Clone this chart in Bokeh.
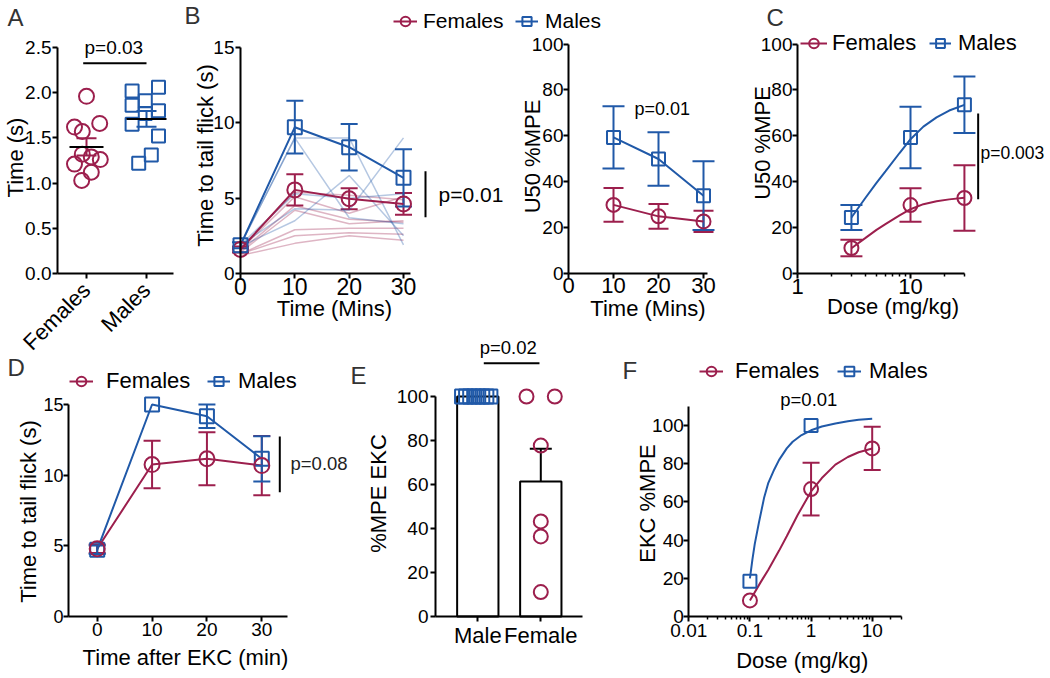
import math
from bokeh.plotting import figure
from bokeh.models import (Range1d, FixedTicker, Whisker, TeeHead, Label, Legend,
                          LegendItem, ColumnDataSource, GridBox, PrintfTickFormatter,
                          CustomJSTickFormatter)
from bokeh.embed import file_html
from bokeh.resources import INLINE

FEM = "#9C1F4D"
MAL = "#2059A8"
FONT = "Liberation Sans"

# ---------------- data ----------------
# Panel A
a_groups = ["Females", "Males"]
a_fem = [1.96, 1.62, 1.57, 1.66, 1.32, 1.29, 1.21, 1.26, 1.12, 1.03]
a_fem_jit = [0.0, -0.20, -0.07, 0.22, -0.07, 0.08, -0.20, 0.23, 0.08, -0.08]
a_mal = [2.02, 2.06, 1.91, 1.86, 1.80, 1.77, 1.65, 1.52, 1.31, 1.22]
a_mal_jit = [-0.24, 0.20, -0.02, -0.24, 0.20, -0.02, -0.24, 0.20, 0.08, -0.13]
a_mean = [1.40, 1.71]
a_sem = [0.095, 0.088]

# Panel B (left): time course
b_t = [0, 10, 20, 30]
b_fem_mean = [1.6, 5.55, 4.96, 4.62]
b_fem_sem = [0.2, 1.03, 0.70, 0.72]
b_mal_mean = [1.88, 9.71, 8.38, 6.35]
b_mal_sem = [0.2, 1.75, 1.55, 1.90]
b_fem_ind = [[1.7, 5.4, 5.2, 4.9], [1.6, 5.1, 4.0, 5.1], [1.5, 4.5, 3.6, 3.4],
             [1.4, 4.2, 3.3, 3.5], [1.3, 2.9, 3.0, 3.0], [1.3, 2.5, 2.7, 2.6],
             [1.2, 2.0, 2.5, 2.2]]
b_mal_ind = [[1.9, 9.0, 9.0, 1.9], [1.9, 9.0, 3.7, 3.3], [1.8, 3.5, 6.5, 2.5],
             [1.9, 4.3, 4.2, 9.0], [1.9, 5.3, 5.0, 5.3]]

# Panel B (right): U50 %MPE
b2_t = [10, 20, 30]
b2_fem = [29.9, 24.9, 22.7]
b2_fem_sem = [7.4, 5.4, 4.6]
b2_mal = [59.3, 49.9, 33.9]
b2_mal_sem = [13.6, 11.7, 15.0]

# Panel C: dose response
c_dose = [3, 10, 30]
c_fem = [11.1, 29.8, 32.9]
c_fem_sem = [3.6, 7.3, 14.3]
c_mal = [24.4, 59.3, 73.5]
c_mal_sem = [5.5, 13.4, 12.3]
c_curve_dose = [3, 4, 5, 6, 8, 10, 13, 17, 22, 30]
c_curve_mal = [24.4, 33.0, 39.5, 44.5, 52.5, 58.5, 64.0, 68.0, 71.0, 73.5]
c_curve_fem = [11.0, 15.5, 19.0, 21.5, 25.3, 28.0, 30.2, 31.5, 32.3, 33.0]

# Panel D: after EKC
d_t = [0, 10, 20, 30]
d_fem = [4.79, 10.75, 11.16, 10.68]
d_fem_sem = [0.3, 1.68, 1.88, 2.1]
d_mal = [4.72, 15.0, 14.17, 11.16]
d_mal_sem = [0.3, 0.0, 0.83, 1.6]

# Panel E: %MPE EKC
e_groups = ["Male", "Female"]
e_mal = [100, 100, 100, 100, 100, 100, 100, 100]
e_mal_jit = [-0.25, -0.186, -0.121, -0.057, 0.007, 0.071, 0.136, 0.2]
e_fem = [100, 100, 77.7, 43.2, 36.4, 11.1]
e_fem_jit = [-0.227, 0.222, 0.0, 0.0, 0.0, 0.0]
e_mean = [100, 61.4]
e_fem_sem = 14.9

# Panel F: EKC dose response
f_fem_dose = [0.1, 1, 10]
f_fem = [8.4, 66.7, 88.0]
f_fem_sem = [0.0, 13.8, 11.3]
f_mal_dose = [0.1, 1]
f_mal = [18.5, 100]
f_curve_mal_dose = [0.1, 0.11, 0.12, 0.14, 0.17, 0.2, 0.25, 0.3, 0.4, 0.5, 0.7, 1, 1.5, 2.5, 4, 6, 10]
f_curve_mal = [20, 30, 38, 49, 62, 70, 77, 82, 88, 91.5, 95, 97.5, 99.5, 101, 102.2, 103, 103.5]
f_curve_fem_dose = [0.1, 0.15, 0.2, 0.3, 0.4, 0.6, 1, 1.5, 2.5, 4, 6, 10]
f_curve_fem = [8.4, 18, 24.5, 34.5, 42, 53, 65.5, 72.5, 79.5, 83.5, 86, 88]

# tick values
tk_a_y = [0, 0.5, 1.0, 1.5, 2.0, 2.5]
tk_time = [0, 10, 20, 30]
tk_15 = [0, 5, 10, 15]
tk_100 = [0, 20, 40, 60, 80, 100]
tk_c_x = [1, 10]
tk_c_minor = [2, 3, 4, 5, 6, 7, 8, 9, 20, 30]
tk_f_x = [0.01, 0.1, 1, 10]
tk_f_minor = [0.02, 0.03, 0.04, 0.05, 0.06, 0.07, 0.08, 0.09,
              0.2, 0.3, 0.4, 0.5, 0.6, 0.7, 0.8, 0.9,
              2, 3, 4, 5, 6, 7, 8, 9, 20, 30]


# ---------------- helpers ----------------
def lin(v0, p0, v1, p1):
    k = (v1 - v0) / (p1 - p0)
    return lambda p: v0 + (p - p0) * k


def logm(v0, p0, v1, p1):
    l0, l1 = math.log10(v0), math.log10(v1)
    k = (l1 - l0) / (p1 - p0)
    return lambda p: 10 ** (l0 + (p - p0) * k)


class Pan:
    """One panel: a figure whose plotting frame covers its whole canvas."""

    def __init__(self, canvas, xm, ym, xlog=False):
        self.c = canvas
        self.xm, self.ym = xm, ym
        cx0, cy0, cx1, cy1 = canvas
        kw = {"x_axis_type": "log"} if xlog else {}
        p = figure(width=cx1 - cx0, height=cy1 - cy0, output_backend="svg",
                   toolbar_location=None,
                   x_range=Range1d(xm(cx0), xm(cx1)), y_range=Range1d(ym(cy1), ym(cy0)),
                   min_border_left=0, min_border_right=0,
                   min_border_top=0, min_border_bottom=0, **kw)
        p.min_border = 0
        p.outline_line_color = None
        p.grid.visible = False
        p.background_fill_color = "white"
        p.border_fill_color = "white"
        for ax in p.axis:
            ax.axis_line_width = 2
            ax.axis_line_color = "black"
            ax.major_tick_line_width = 2
            ax.major_tick_line_color = "black"
            ax.major_tick_out = 5
            ax.major_tick_in = 0
            ax.minor_tick_line_width = 1.5
            ax.minor_tick_line_color = "black"
            ax.minor_tick_out = 3
            ax.minor_tick_in = 0
            ax.major_label_text_font = FONT
            ax.major_label_text_color = "black"
        self.p = p

    def axes(self, xt, xsize, xs1, xb, xloc, yt, ysize, ys1, yb, yloc, xminor=None):
        xa, ya = self.p.xaxis[0], self.p.yaxis[0]
        xa.ticker = FixedTicker(ticks=xt, minor_ticks=xminor or [])
        ya.ticker = FixedTicker(ticks=yt)
        xa.major_label_text_font_size = f"{xsize}px"
        ya.major_label_text_font_size = f"{ysize}px"
        xa.major_label_standoff = xs1
        ya.major_label_standoff = ys1
        xa.bounds = xb
        ya.bounds = yb
        xa.fixed_location = xloc
        ya.fixed_location = yloc
        return xa, ya

    # (px, py) is the centre of the text's line box, in page pixels
    def text(self, px, py, s, size, align="center", angle=0.0, color="black"):
        self.p.add_layout(Label(x=self.xm(px), y=self.ym(py), text=s,
                                text_font=FONT, text_font_size=f"{size}px",
                                text_align=align, text_baseline="middle",
                                angle=angle, text_color=color))

    def ytitle(self, px, py, s):
        self.text(px, py, s, 22, angle=math.pi / 2)

    def letter(self, px, py, s):
        self.text(px, py, s, 24, align="left", color="#333333")

    def legend(self, label, rends, x_img, y_img, gw=24, standoff=6, size=22):
        cx0, cy0, cx1, cy1 = self.c
        H = 25
        L = Legend(items=[LegendItem(label=label, renderers=rends)],
                   location=(x_img - cx0, cy1 - y_img - H / 2),
                   orientation="horizontal", glyph_width=gw, glyph_height=24,
                   label_standoff=standoff, padding=0, margin=0,
                   border_line_color=None, background_fill_alpha=0,
                   label_text_font=FONT, label_text_font_size=f"{size}px",
                   label_text_color="black", label_height=20)
        self.p.add_layout(L, "center")


def pts(p, xs, ys, kind, color, size):
    return p.scatter(xs, ys, marker=kind, size=size, line_color=color,
                     line_width=2, fill_color=None)


def whisk(p, xs, means, sems, color, head):
    keep = [(x, m, s) for x, m, s in zip(xs, means, sems) if s > 0]
    src = ColumnDataSource(dict(x=[k[0] for k in keep],
                                up=[k[1] + k[2] for k in keep],
                                lo=[k[1] - k[2] for k in keep]))
    w = Whisker(source=src, base="x", upper="up", lower="lo", dimension="height",
                line_color=color, line_width=2,
                upper_head=TeeHead(size=head, line_color=color, line_width=2),
                lower_head=TeeHead(size=head, line_color=color, line_width=2))
    p.add_layout(w)


# ---------------- Panel A ----------------
A = Pan((0, 0, 178, 355), lin(1, 86, 2, 146), lin(0, 273, 2.5, 47))
xa, ya = A.axes([1, 2], 22, 8, (A.xm(57), A.xm(173)), 0,
                tk_a_y, 19, 1, (0, 2.5), A.xm(57))
xa.major_label_overrides = {1: a_groups[0], 2: a_groups[1]}
xa.major_label_orientation = math.pi / 4
ya.formatter = PrintfTickFormatter(format="%.1f")
p = A.p
whisk(p, [1], [a_mean[0]], [a_sem[0]], FEM, 20)
whisk(p, [2], [a_mean[1]], [a_sem[1]], MAL, 20)
pts(p, [1 + j for j in a_fem_jit], a_fem, "circle", FEM, 15)
pts(p, [2 + j for j in a_mal_jit], a_mal, "square", MAL, 13)
p.scatter([1, 2], a_mean, marker="dash", size=[34, 40], line_color="black", line_width=2)
p.line([0.945, 2.0], [2.326, 2.326], line_color="black", line_width=2)
A.text(113.3, 47.4, "p=0.03", 19)
A.ytitle(15.3, 157, "Time (s)")
A.letter(7, 16.6, "A")

# ---------------- Panel B left ----------------
B1 = Pan((178, 0, 510, 336), lin(0, 240, 30, 403), lin(0, 273, 15, 47))
B1.axes(tk_time, 23, -1, (0, 31.3), 0, tk_15, 19, 1, (0, 15), 0)
p = B1.p
p.multi_line([b_t] * len(b_fem_ind), b_fem_ind, line_color=FEM, line_alpha=0.33, line_width=1.5)
p.multi_line([b_t] * len(b_mal_ind), b_mal_ind, line_color=MAL, line_alpha=0.33, line_width=1.5)
lf = p.line(b_t, b_fem_mean, line_color=FEM, line_width=2)
lm = p.line(b_t, b_mal_mean, line_color=MAL, line_width=2)
whisk(p, b_t, b_fem_mean, b_fem_sem, FEM, 17)
whisk(p, b_t, b_mal_mean, b_mal_sem, MAL, 17)
sf = pts(p, b_t, b_fem_mean, "circle", FEM, 15)
sm = pts(p, b_t, b_mal_mean, "square", MAL, 14)
p.line([34.05, 34.05], [3.74, 6.79], line_color="black", line_width=2)
B1.text(438, 194.4, "p=0.01", 21, align="left")
B1.text(334, 308.3, "Time (Mins)", 22)
B1.ytitle(205.3, 155, "Time to tail flick (s)")
B1.legend("Females", [lf, sf], 393, 20, 24, 6, 21)
B1.letter(184, 14.6, "B")

# ---------------- Panel B right ----------------
B2 = Pan((510, 0, 745, 336), lin(0, 568, 30, 703), lin(0, 273, 100, 43.5))
B2.axes(tk_time, 22, -1, (0, 30.8), 0, tk_100, 19, 0, (0, 100), 0)
p = B2.p
lf2 = p.line(b2_t, b2_fem, line_color=FEM, line_width=2)
lm2 = p.line(b2_t, b2_mal, line_color=MAL, line_width=2)
whisk(p, b2_t, b2_fem, b2_fem_sem, FEM, 20)
whisk(p, b2_t, b2_mal, b2_mal_sem, MAL, 22)
sf2 = pts(p, b2_t, b2_fem, "circle", FEM, 14)
sm2 = pts(p, b2_t, b2_mal, "square", MAL, 13)
B2.text(661.7, 108.7, "p=0.01", 18)
B2.text(647.5, 308.3, "Time (Mins)", 22)
B2.ytitle(532.3, 156, "U50 %MPE")
B2.legend("Males", [lm2, sm2], 515, 20, 23, 7, 21)

# ---------------- Panel C ----------------
C = Pan((745, 0, 1048, 336), logm(1, 797, 10, 910), lin(0, 273, 100, 43.5), xlog=True)
xa, ya = C.axes(tk_c_x, 22, 0, (1, 30), 0, tk_100, 19, 0, (0, 100), 1, tk_c_minor)
xa.formatter = CustomJSTickFormatter(code="return tick.toString()")
p = C.p
cf = p.line(c_curve_dose, c_curve_fem, line_color=FEM, line_width=2)
cm = p.line(c_curve_dose, c_curve_mal, line_color=MAL, line_width=2)
whisk(p, c_dose, c_fem, c_fem_sem, FEM, 22)
whisk(p, c_dose, c_mal, c_mal_sem, MAL, 22)
csf = pts(p, c_dose, c_fem, "circle", FEM, 14)
csm = pts(p, c_dose, c_mal, "square", MAL, 13)
p.line([39.7, 39.7], [32.4, 69.7], line_color="black", line_width=2)
C.text(980, 152.2, "p=0.003", 17.5, align="left")
C.text(892.5, 305.6, "Dose (mg/kg)", 22)
C.ytitle(762.3, 142.5, "U50 %MPE")
C.legend("Females", [cf, csf], 800, 43.3, 27, 5)
C.legend("Males", [cm, csm], 929, 43.3, 22, 7)
C.letter(766, 16.6, "C")

# ---------------- Panel D ----------------
D = Pan((0, 355, 349, 676), lin(0, 96.7, 30, 261.3), lin(0, 616, 15, 404))
D.axes(tk_time, 19, 1, (D.xm(68), 34.7), 0, tk_15, 18, 0, (0, 15), D.xm(68))
p = D.p
df = p.line(d_t, d_fem, line_color=FEM, line_width=2)
dm = p.line(d_t, d_mal, line_color=MAL, line_width=2)
whisk(p, d_t, d_fem, d_fem_sem, FEM, 17)
whisk(p, d_t, d_mal, d_mal_sem, MAL, 17)
dsm = pts(p, d_t, d_mal, "square", MAL, 14)
dsf = pts(p, d_t, d_fem, "circle", FEM, 15)
p.line([33.28, 33.28], [8.8, 12.74], line_color="black", line_width=2)
D.text(290, 463.4, "p=0.08", 18.5, align="left", color="#222222")
D.text(185, 657.3, "Time after EKC (min)", 22)
D.ytitle(27.8, 511, "Time to tail flick (s)")
D.legend("Females", [df, dsf], 69, 381.7, 24, 13)
D.legend("Males", [dm, dsm], 207, 381.7, 23, 8)
D.letter(7, 366.6, "D")

# ---------------- Panel E ----------------
E = Pan((349, 336, 600, 676), lin(1, 477.3, 2, 540.3), lin(0, 616, 100, 396))
xa, ya = E.axes([1, 2], 22, 1, (E.xm(435), E.xm(582.3)), 0,
                tk_100, 19, 2, (0, 100), E.xm(435))
xa.major_label_overrides = {1: e_groups[0], 2: e_groups[1]}
p = E.p
p.vbar(x=[1, 2], top=e_mean, width=0.656, fill_color="white", line_color="black", line_width=2)
whisk(p, [2], [e_mean[1]], [e_fem_sem], "black", 22)
pts(p, [1 + j for j in e_mal_jit], e_mal, "square", MAL, 14)
pts(p, [2 + j for j in e_fem_jit], e_fem, "circle", FEM, 14)
p.line([1.095, 1.979], [115.1, 115.1], line_color="black", line_width=2)
E.text(507.7, 346.8, "p=0.02", 18.5)
E.ytitle(378.3, 493, "%MPE EKC")
E.letter(350, 374.6, "E")

# ---------------- Panel F ----------------
F = Pan((600, 336, 1048, 676), logm(0.01, 688.3, 10, 871.7), lin(0, 616, 100, 425), xlog=True)
xa, ya = F.axes(tk_f_x, 19, 2, (0.01, 30), 0, tk_100, 19, 0, (0, 110), 0.01, tk_f_minor)
xa.formatter = CustomJSTickFormatter(code="return tick.toString()")
p = F.p
ff = p.line(f_curve_fem_dose, f_curve_fem, line_color=FEM, line_width=2)
fm = p.line(f_curve_mal_dose, f_curve_mal, line_color=MAL, line_width=2)
whisk(p, f_fem_dose, f_fem, f_fem_sem, FEM, 17)
fsf = pts(p, f_fem_dose, f_fem, "circle", FEM, 14)
fsm = pts(p, f_mal_dose, f_mal, "square", MAL, 13)
F.text(808.3, 398.5, "p=0.01", 18.5)
F.text(801.7, 660.3, "Dose (mg/kg)", 22)
F.ytitle(647.3, 503, "EKC %MPE")
F.legend("Females", [ff, fsf], 699, 371.7, 24, 12)
F.legend("Males", [fm, fsm], 837, 371.7, 24, 8)
F.letter(622, 369.6, "F")

grid = GridBox(children=[(A.p, 0, 0, 2, 1), (B1.p, 0, 1, 1, 2), (B2.p, 0, 3, 1, 2),
                         (C.p, 0, 5, 1, 1), (D.p, 2, 0, 1, 2), (E.p, 1, 2, 2, 2),
                         (F.p, 1, 4, 2, 2)],
               rows=["336px", "19px", "321px"],
               cols=["178px", "171px", "161px", "90px", "145px", "303px"])

open("out.html", "w").write(file_html(grid, INLINE))
